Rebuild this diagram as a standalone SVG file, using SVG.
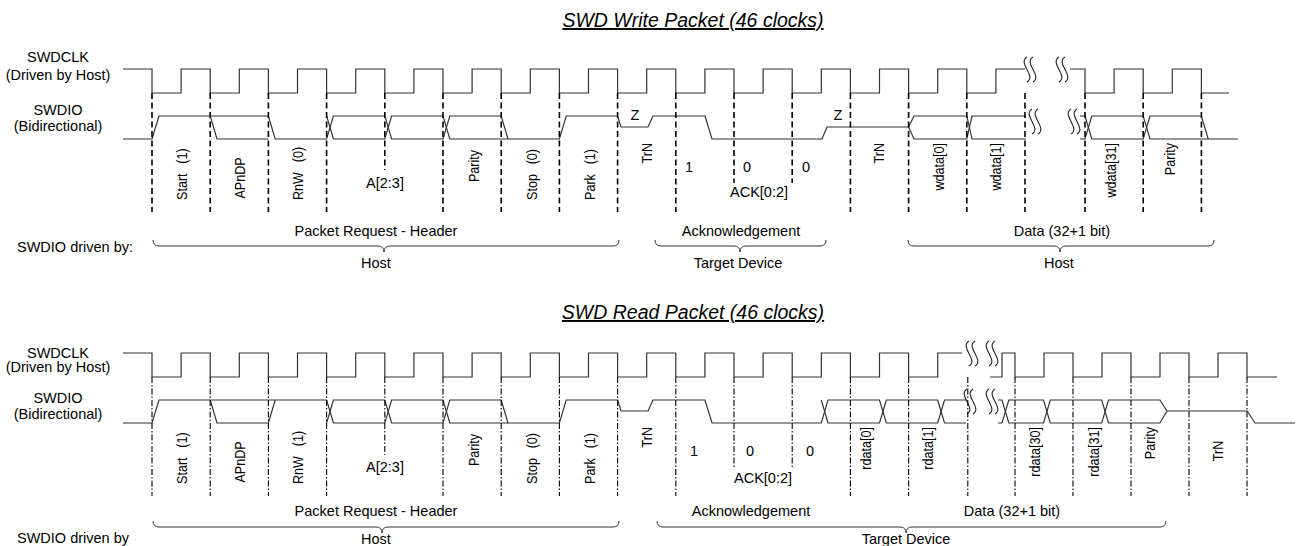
<svg xmlns="http://www.w3.org/2000/svg" xmlns:xlink="http://www.w3.org/1999/xlink" width="1296" height="546" viewBox="0 0 1296 546">
<style>
.w{fill:none;stroke:#333;stroke-width:1.2;stroke-linejoin:miter}
.dt{stroke:#000;stroke-width:1.6;stroke-dasharray:6 3.5;fill:none}
.db{stroke:#000;stroke-width:1.1;stroke-dasharray:6 2 1.5 2;fill:none}
.br{fill:none;stroke:#333;stroke-width:1}
.sq{fill:none;stroke:#222;stroke-width:1.1}
text{font-family:"Liberation Sans",Arial,sans-serif;fill:#000}
.t{font-size:14.5px}
.r{font-size:14px}
.ttl{font-size:19.5px;font-style:italic;text-decoration:underline}
</style>
<defs>
<path id="sq" class="sq" d="M0,0 C-10,6 10,19 0,25 M6,0 C-4,6 16,19 6,25"/>
</defs>
<rect width="1296" height="546" fill="#fff"/>

<g id="write-packet">
<text class="ttl" x="693" y="27" text-anchor="middle">SWD Write Packet (46 clocks)</text>
<g id="w-signal-labels" class="t" text-anchor="middle">
<text x="58" y="62">SWDCLK</text>
<text x="58" y="80">(Driven by Host)</text>
<text x="58" y="115">SWDIO</text>
<text x="58" y="131">(Bidirectional)</text>
</g>
<g id="w-swdclk">
<path class="w" d="M123,69 H152 V93 H181.1 V69 H210.2 V93 H239.3 V69 H268.4 V93 H297.5 V69 H326.6 V93 H355.7 V69 H384.8 V93 H413.9 V69 H443 V93 H472.1 V69 H501.2 V93 H530.3 V69 H559.4 V93 H588.5 V69 H617.6 V93 H646.7 V69 H675.8 V93 H704.9 V69 H734 V93 H763.1 V69 H792.2 V93 H821.3 V69 H850.4 V93 H879.5 V69 H908.6 V93 H937.7 V69 H966.8 V93 H995.9 V69 H1025"/>
<path class="w" d="M1070,69 H1085 V93 H1114.1 V69 H1143.2 V93 H1172.3 V69 H1201.4 V93 H1229"/>
<use xlink:href="#sq" x="1027" y="57"/>
<use xlink:href="#sq" x="1059" y="57"/>
</g>
<g id="w-swdio">
<path class="w" d="M123,139 H152 L159,116 H268.4 L275.2,139 H326.6 L333.4,116 H384.8 L391.6,139 H443 L449.8,116 H501.2 L508,139 H559.4 L566.2,116 H617.6 L621,127 H648 L653,116 H705 L712,139 H822 L827,127 H908.6 L914,116 H966.8 L972,139 H1026"/>
<path class="w" d="M210.2,116 L217,139 H268.4"/>
<path class="w" d="M326.6,116 L333.4,139 H384.8 L391.6,116 H443 L449.8,139 H508"/>
<path class="w" d="M908.6,127 L914,139 H966.8 L972,116 H1026"/>
<path class="w" d="M1080,116 H1085 L1091.8,139 H1143.2 L1150,116 H1201.4 L1208.2,139 H1238"/>
<path class="w" d="M1080,139 H1085 L1091.8,116 H1143.2 L1150,139 H1208.2"/>
<use xlink:href="#sq" x="1032" y="109"/>
<use xlink:href="#sq" x="1071" y="109"/>
<text class="t" x="635" y="120" text-anchor="middle">Z</text>
<text class="t" x="838" y="120" text-anchor="middle">Z</text>
</g>
<g id="w-bit-boundaries">
<path class="dt" d="M152,93 V212 M210.2,93 V212 M268.4,93 V212 M326.6,93 V212 M384.8,93 V170 M443,93 V212 M501.2,93 V212 M559.4,93 V212 M617.6,93 V212 M675.8,93 V212 M734,93 V183 M792.2,93 V183 M850.4,93 V212 M908.6,93 V212 M966.8,93 V212 M1025,93 V212 M1085,93 V212 M1143.2,93 V212 M1201.4,93 V212"/>
</g>
<g id="w-bit-labels" class="r">
<text transform="translate(186.5,200) rotate(-90) scale(0.9,1)" word-spacing="7">Start (1)</text>
<text transform="translate(244.5,178) rotate(-90) scale(0.9,1)" text-anchor="middle">APnDP</text>
<text transform="translate(302.5,200) rotate(-90) scale(0.9,1)" word-spacing="7">RnW (0)</text>
<text class="t" x="385" y="188" text-anchor="middle">A[2:3]</text>
<text transform="translate(478.5,166) rotate(-90) scale(0.9,1)" text-anchor="middle">Parity</text>
<text transform="translate(536.5,200) rotate(-90) scale(0.9,1)" word-spacing="7">Stop (0)</text>
<text transform="translate(594.5,200) rotate(-90) scale(0.9,1)" word-spacing="7">Park (1)</text>
<text transform="translate(651.7,143) rotate(-90) scale(0.9,1)" text-anchor="end">TrN</text>
<text class="t" x="689" y="172" text-anchor="middle">1</text>
<text class="t" x="747" y="172" text-anchor="middle">0</text>
<text class="t" x="806" y="172" text-anchor="middle">0</text>
<text class="t" x="759" y="197" text-anchor="middle">ACK[0:2]</text>
<text transform="translate(883.7,143) rotate(-90) scale(0.9,1)" text-anchor="end">TrN</text>
<text transform="translate(943.7,143) rotate(-90) scale(0.9,1)" text-anchor="end">wdata[0]</text>
<text transform="translate(1000.7,143) rotate(-90) scale(0.9,1)" text-anchor="end">wdata[1]</text>
<text transform="translate(1115.7,143) rotate(-90) scale(0.9,1)" text-anchor="end">wdata[31]</text>
<text transform="translate(1174.7,143) rotate(-90) scale(0.9,1)" text-anchor="end">Parity</text>
</g>
<g id="w-phases" class="t" text-anchor="middle">
<path class="br" d="M153,240 Q153,246 159,246 H378 Q384,246 384,252 Q384,246 390,246 H613 Q619,246 619,240"/>
<path class="br" d="M655,240 Q655,246 661,246 H734 Q740,246 740,252 Q740,246 746,246 H820 Q826,246 826,240"/>
<path class="br" d="M908,240 Q908,246 914,246 H1054 Q1060,246 1060,252 Q1060,246 1066,246 H1208 Q1214,246 1214,240"/>
<text x="376" y="236">Packet Request - Header</text>
<text x="376" y="268">Host</text>
<text x="741" y="236">Acknowledgement</text>
<text x="738" y="268">Target Device</text>
<text x="1062" y="236">Data (32+1 bit)</text>
<text x="1059" y="268">Host</text>
<text x="17" y="252" text-anchor="start">SWDIO driven by:</text>
</g>
</g>

<g id="read-packet">
<text class="ttl" x="693" y="319" text-anchor="middle">SWD Read Packet (46 clocks)</text>
<g id="r-signal-labels" class="t" text-anchor="middle">
<text x="58" y="358">SWDCLK</text>
<text x="58" y="372">(Driven by Host)</text>
<text x="58" y="403">SWDIO</text>
<text x="58" y="419">(Bidirectional)</text>
</g>
<g id="r-swdclk">
<path class="w" d="M123,353 H152 V377 H181.1 V353 H210.2 V377 H239.3 V353 H268.4 V377 H297.5 V353 H326.6 V377 H355.7 V353 H384.8 V377 H413.9 V353 H443 V377 H472.1 V353 H501.2 V377 H530.3 V353 H559.4 V377 H588.5 V353 H617.6 V377 H646.7 V353 H675.8 V377 H704.9 V353 H734 V377 H763.1 V353 H792.2 V377 H821.3 V353 H850.4 V377 H879.5 V353 H908.6 V377 H937.7 V353 H962"/>
<path class="w" d="M990,377 H1002 V353 H1015 V377 H1044 V353 H1073 V377 H1102 V353 H1131 V377 H1160 V353 H1189 V377 H1218 V353 H1247 V377 H1277"/>
<use xlink:href="#sq" x="969" y="341"/>
<use xlink:href="#sq" x="989" y="341"/>
</g>
<g id="r-swdio">
<path class="w" d="M123,423 H152 L159,400 H326.6"/>
<path class="w" d="M210.2,400 L217,423 H268.4 L275.2,400"/>
<path class="w" d="M326.6,423 L333.4,400 H384.8 L391.6,423 H443 L449.8,400 H501.2 L508,423 H559.4 L566.2,400 H617.6 L621,411 H648 L653,400 H705 L712,423 H821.3 L828,400 H879.5 L886.3,423 H937.7 L944.5,400 H966"/>
<path class="w" d="M326.6,400 L333.4,423 H384.8 L391.6,400 H443 L449.8,423 H508"/>
<path class="w" d="M821.3,400 L828,423 H879.5 L886.3,400 H937.7 L944.5,423 H966"/>
<path class="w" d="M998,400 H1002 L1008.8,423 H1043.5 L1050.3,400 H1101.7 L1108.5,423 H1159.9 L1167,411 H1247.2 L1255,423 H1295"/>
<path class="w" d="M998,423 H1002 L1008.8,400 H1043.5 L1050.3,423 H1101.7 L1108.5,400 H1159.9 L1167,411"/>
<use xlink:href="#sq" x="967" y="389"/>
<use xlink:href="#sq" x="989" y="389"/>
</g>
<g id="r-bit-boundaries">
<path class="db" d="M152,377 V496 M210.2,377 V496 M268.4,377 V496 M326.6,377 V496 M384.8,377 V455 M443,377 V496 M501.2,377 V496 M559.4,377 V496 M617.6,377 V496 M675.8,377 V496 M734,377 V468 M792.2,377 V468 M850.4,377 V496 M908.6,377 V496 M967.8,377 V496 M1015,377 V496 M1073,377 V496 M1131,377 V496 M1189,377 V496 M1247,377 V496"/>
</g>
<g id="r-bit-labels" class="r">
<text transform="translate(186.5,484) rotate(-90) scale(0.9,1)" word-spacing="7">Start (1)</text>
<text transform="translate(244.5,462) rotate(-90) scale(0.9,1)" text-anchor="middle">APnDP</text>
<text transform="translate(302.5,484) rotate(-90) scale(0.9,1)" word-spacing="7">RnW (1)</text>
<text class="t" x="385" y="472" text-anchor="middle">A[2:3]</text>
<text transform="translate(478.5,450) rotate(-90) scale(0.9,1)" text-anchor="middle">Parity</text>
<text transform="translate(536.5,484) rotate(-90) scale(0.9,1)" word-spacing="7">Stop (0)</text>
<text transform="translate(594.5,484) rotate(-90) scale(0.9,1)" word-spacing="7">Park (1)</text>
<text transform="translate(651.7,427) rotate(-90) scale(0.9,1)" text-anchor="end">TrN</text>
<text class="t" x="694" y="456" text-anchor="middle">1</text>
<text class="t" x="750" y="456" text-anchor="middle">0</text>
<text class="t" x="810" y="456" text-anchor="middle">0</text>
<text class="t" x="763" y="483" text-anchor="middle">ACK[0:2]</text>
<text transform="translate(870.7,427) rotate(-90) scale(0.9,1)" text-anchor="end">rdata[0]</text>
<text transform="translate(932.7,427) rotate(-90) scale(0.9,1)" text-anchor="end">rdata[1]</text>
<text transform="translate(1039.7,427) rotate(-90) scale(0.9,1)" text-anchor="end">rdata[30]</text>
<text transform="translate(1098.7,427) rotate(-90) scale(0.9,1)" text-anchor="end">rdata[31]</text>
<text transform="translate(1154.7,427) rotate(-90) scale(0.9,1)" text-anchor="end">Parity</text>
<text transform="translate(1222.7,451) rotate(-90) scale(0.9,1)" text-anchor="middle">TrN</text>
</g>
<g id="r-phases" class="t" text-anchor="middle">
<path class="br" d="M153,521 Q153,527 159,527 H376 Q382,527 382,533 Q382,527 388,527 H613 Q619,527 619,521"/>
<path class="br" d="M657,521 Q657,527 663,527 H900 Q906,527 906,533 Q906,527 912,527 H1160 Q1166,527 1166,521"/>
<text x="376" y="516">Packet Request - Header</text>
<text x="376" y="544">Host</text>
<text x="751" y="516">Acknowledgement</text>
<text x="1012" y="516">Data (32+1 bit)</text>
<text x="906" y="544">Target Device</text>
<text x="17" y="543" text-anchor="start">SWDIO driven by</text>
</g>
</g>
</svg>
